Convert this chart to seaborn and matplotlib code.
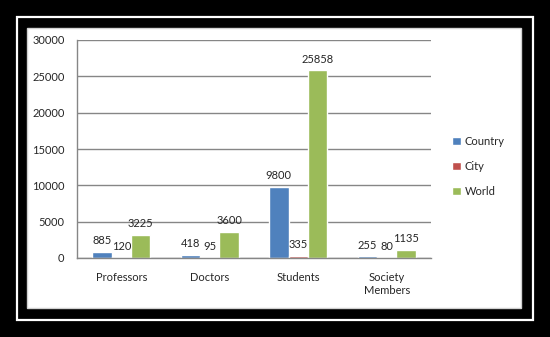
# grouped bar chart: Country / City / World counts per group

import pandas as pd
import seaborn as sns
import matplotlib.pyplot as plt
from matplotlib.patches import Rectangle

categories = ['Professors', 'Doctors', 'Students', 'Society\nMembers']
series = ['Country', 'City', 'World']
country = [885, 418, 9800, 255]
city = [120, 95, 335, 80]
world = [3225, 3600, 25858, 1135]
colors = ['#4F81BD', '#C0504D', '#9BBB59']

rows = []
for name, vals in zip(series, [country, city, world]):
    for cat, v in zip(categories, vals):
        rows.append({'category': cat, 'series': name, 'value': v})
df = pd.DataFrame(rows)

sns.set_style('white')
plt.rcParams['font.family'] = ['Lato', 'DejaVu Sans']
fs = 8

fig = plt.figure(figsize=(5.5, 3.37), dpi=100)
fig.patch.set_facecolor('black')

# picture frame: black border, thin white line, inner white panel
W, H = 550, 337
fig.patches.append(Rectangle((17 / W, 17 / H), (W - 34) / W, (H - 34) / H,
                             transform=fig.transFigure, facecolor='none',
                             edgecolor='white', lw=1.6, zorder=-2))
fig.patches.append(Rectangle((27 / W, 29 / H), (W - 56) / W, (H - 57) / H,
                             transform=fig.transFigure, facecolor='white',
                             edgecolor='#d0d0d0', lw=1.0, zorder=-1))

ax = fig.add_axes([77 / W, (H - 258) / H, (431 - 77) / W, (258 - 40) / H])
ax.set_facecolor('none')

sns.barplot(data=df, x='category', y='value', hue='series', palette=colors,
            saturation=1, width=0.66, ax=ax, errorbar=None)

for cont in ax.containers:
    ax.bar_label(cont, fmt='%d', padding=4, fontsize=fs)

ax.set_ylim(0, 30000)
ax.set_yticks(range(0, 30001, 5000))
ax.set_xlim(-0.5, 3.5)
ax.set_xlabel('')
ax.set_ylabel('')
ax.yaxis.grid(True, color='#868686', lw=1)
ax.set_axisbelow(True)
for s in ['top', 'right']:
    ax.spines[s].set_visible(False)
for s in ['left', 'bottom']:
    ax.spines[s].set_color('#868686')
    ax.spines[s].set_linewidth(1)

ax.tick_params(axis='y', length=4, color='#868686', pad=5, labelsize=fs)
ax.set_xticks([-0.5, 0.5, 1.5, 2.5, 3.5], minor=True)
ax.tick_params(axis='x', which='major', length=0, pad=10, labelsize=fs)
ax.tick_params(axis='x', which='minor', length=5, color='#868686')

handles, labels = ax.get_legend_handles_labels()
ax.legend(handles, labels, loc='center left', bbox_to_anchor=(1.03, 0.42),
          frameon=False, fontsize=fs, handlelength=0.8, handleheight=0.8,
          handletextpad=0.4, labelspacing=1.25)

plt.savefig('out.png', dpi=100, facecolor=fig.get_facecolor())
